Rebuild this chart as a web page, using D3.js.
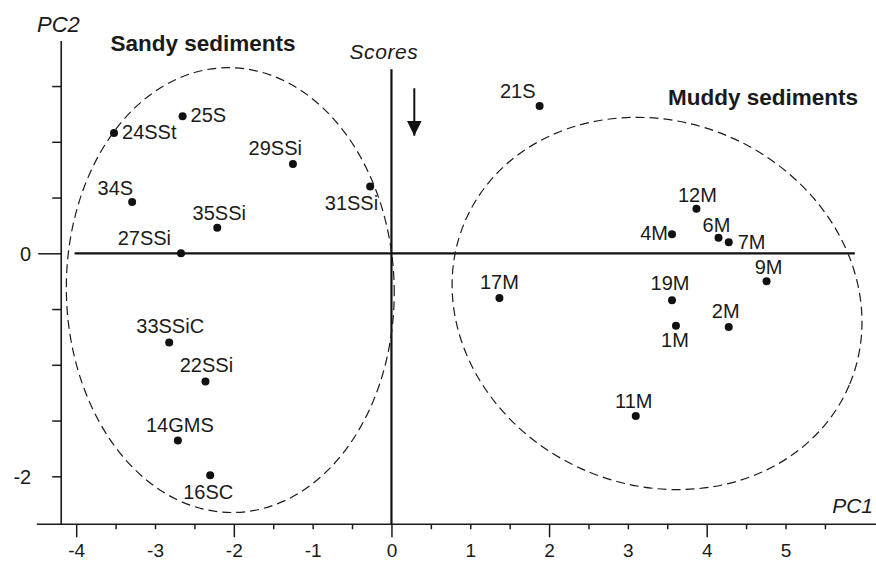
<!DOCTYPE html>
<html>
<head>
<meta charset="utf-8">
<script src="https://cdn.jsdelivr.net/npm/d3@7"></script>
<style>
  body { margin: 0; background: #fff; }
  svg { display: block; }
  text { font-family: "Liberation Sans", Arial, Helvetica, sans-serif; fill: #1a1a1a; }
</style>
</head>
<body>
<div class="chart"></div>
<script>
// sample scores (PC1, PC2)
const samples = ['25S','24SSt','29SSi','31SSi','34S','35SSi','27SSi','21S','12M','4M','6M','7M','9M','17M','19M','1M','2M','11M','33SSiC','22SSi','14GMS','16SC'];
const pc1 = [-2.65,-3.52,-1.25,-0.27,-3.29,-2.21,-2.67,1.88,3.87,3.56,4.15,4.28,4.76,1.37,3.56,3.61,4.28,3.10,-2.82,-2.36,-2.71,-2.30];
const pc2 = [1.23,1.08,0.80,0.60,0.46,0.23,0.00,1.32,0.40,0.17,0.14,0.10,-0.25,-0.40,-0.42,-0.65,-0.66,-1.46,-0.80,-1.15,-1.68,-1.99];

const xTicks = d3.range(-4, 5.51, 0.5);
const yTicks = d3.range(-2, 1.51, 0.5);
const xTickLabels = [-4,-3,-2,-1,0,1,2,3,4,5];
const yTickLabels = [0,-2];

// group ellipses: centre, half axes (data units), tilt in degrees
const groups = [
  {name: 'Sandy sediments', cx: -2.045, cy: -0.33, rx: 2.08, ry: 1.995, tilt: -1},
  {name: 'Muddy sediments', cx: 3.37, cy: -0.45, rx: 2.65, ry: 1.63, tilt: 23}
];

// label placement around each dot
const labelPos = {
  '25S':   ['start', 8, 6],   '24SSt': ['start', 8, 6],
  '29SSi': ['end', 9, -9],    '31SSi': ['end', 8, 24],
  '34S':   ['end', 1, -7],    '35SSi': ['middle', 2, -8],
  '27SSi': ['end', -10, -8],  '21S':   ['end', -4, -8],
  '12M':   ['middle', 1, -7], '4M':    ['end', -4, 6],
  '6M':    ['middle', -2, -6],'7M':    ['start', 9, 7],
  '9M':    ['middle', 2, -7], '17M':   ['middle', 0, -9],
  '19M':   ['middle', -2, -10],'1M':   ['middle', -1, 21],
  '2M':    ['middle', -3, -9],'11M':   ['middle', -2, -8],
  '33SSiC':['middle', 1, -10],'22SSi': ['middle', 1, -10],
  '14GMS': ['middle', 2, -9], '16SC':  ['middle', -2, 24]
};

const width = 876, height = 562;

const svg = d3.select('.chart')
  .append('svg')
  .attr('width', width)
  .attr('height', height);

const x = d3.scaleLinear().domain([-4, 5]).range([76.2, 785.5]);
const y = d3.scaleLinear().domain([0, -2]).range([253.3, 476.3]);

// x axis
const xAxisG = svg.append('g')
  .attr('transform', 'translate(0,' + y(-2.43) + ')')
  .call(d3.axisBottom(x)
    .tickValues(xTicks)
    .tickSize(5)
    .tickFormat(d => xTickLabels.includes(d) ? d : ''));
xAxisG.select('.domain').remove();
xAxisG.selectAll('.tick line')
  .attr('stroke', '#1a1a1a')
  .attr('stroke-width', 1.5)
  .attr('y2', d => d % 2 === 0 ? 13 : 5);
xAxisG.selectAll('.tick text')
  .attr('y', 33).attr('dy', 0)
  .style('font-size', '19px');
svg.append('line')
  .attr('x1', x(-4.5)).attr('x2', x(6.17))
  .attr('y1', y(-2.43)).attr('y2', y(-2.43))
  .attr('stroke', '#1a1a1a').attr('stroke-width', 1.6);

// y axis
const yAxisG = svg.append('g')
  .attr('transform', 'translate(' + x(-4.19) + ',0)')
  .call(d3.axisLeft(y)
    .tickValues(yTicks)
    .tickSize(9)
    .tickFormat(d => yTickLabels.includes(d) ? d : ''));
yAxisG.select('.domain').remove();
yAxisG.selectAll('.tick line')
  .attr('stroke', '#1a1a1a')
  .attr('stroke-width', 1.5)
  .attr('x2', d => d === 0 ? -23 : -9);
yAxisG.selectAll('.tick text')
  .attr('x', -30).attr('dy', '0.35em')
  .style('font-size', '20px');
svg.append('line')
  .attr('x1', x(-4.19)).attr('x2', x(-4.19))
  .attr('y1', y(1.905)).attr('y2', y(-2.43))
  .attr('stroke', '#1a1a1a').attr('stroke-width', 1.6);

// zero lines
svg.append('line')
  .attr('x1', x(-4.02)).attr('x2', x(5.88))
  .attr('y1', y(0)).attr('y2', y(0))
  .attr('stroke', '#111').attr('stroke-width', 2.2);
svg.append('line')
  .attr('x1', x(0)).attr('x2', x(0))
  .attr('y1', y(1.65)).attr('y2', y(-2.43))
  .attr('stroke', '#111').attr('stroke-width', 2.2);

// dashed group ellipses
svg.selectAll('ellipse.group')
  .data(groups)
  .enter()
  .append('ellipse')
  .attr('class', 'group')
  .attr('transform', d => 'translate(' + x(d.cx) + ',' + y(d.cy) + ') rotate(' + d.tilt + ')')
  .attr('rx', d => x(d.rx) - x(0))
  .attr('ry', d => y(0) - y(d.ry))
  .attr('fill', 'none')
  .attr('stroke', '#1a1a1a')
  .attr('stroke-width', 1.2)
  .attr('stroke-dasharray', '9,5');

// points
const pts = samples.map((s, i) => ({name: s, pc1: pc1[i], pc2: pc2[i]}));

svg.selectAll('circle.pt')
  .data(pts)
  .enter()
  .append('circle')
  .attr('class', 'pt')
  .attr('cx', d => x(d.pc1))
  .attr('cy', d => y(d.pc2))
  .attr('r', 4)
  .attr('fill', '#111');

svg.selectAll('text.lbl')
  .data(pts)
  .enter()
  .append('text')
  .attr('class', 'lbl')
  .attr('x', d => x(d.pc1) + labelPos[d.name][1])
  .attr('y', d => y(d.pc2) + labelPos[d.name][2])
  .attr('text-anchor', d => labelPos[d.name][0])
  .style('font-size', '20px')
  .text(d => d.name);

// arrow
svg.append('defs').append('marker')
  .attr('id', 'head')
  .attr('viewBox', '0 0 10 10')
  .attr('refX', 10).attr('refY', 5)
  .attr('markerWidth', 7.5).attr('markerHeight', 7.5)
  .attr('markerUnits', 'strokeWidth')
  .attr('orient', 'auto')
  .append('path')
  .attr('d', 'M0,0L10,5L0,10Z')
  .attr('fill', '#111');
svg.append('line')
  .attr('x1', x(0.29)).attr('x2', x(0.29))
  .attr('y1', y(1.48)).attr('y2', y(1.055))
  .attr('stroke', '#111').attr('stroke-width', 2)
  .attr('marker-end', 'url(#head)');

// titles
svg.append('text').attr('x', 37).attr('y', 31.5)
  .style('font-size', '22px').style('font-style', 'italic').text('PC2');
svg.append('text').attr('x', 873).attr('y', 513).attr('text-anchor', 'end')
  .style('font-size', '21px').style('font-style', 'italic').text('PC1');
svg.append('text').attr('x', 384).attr('y', 58.5).attr('text-anchor', 'middle')
  .style('font-size', '21px').style('font-style', 'italic').style('letter-spacing', '0.6px').text('Scores');
svg.append('text').attr('x', 203).attr('y', 51).attr('text-anchor', 'middle')
  .style('font-size', '22.5px').style('font-weight', 'bold').text(groups[0].name);
svg.append('text').attr('x', 763).attr('y', 105).attr('text-anchor', 'middle')
  .style('font-size', '22.5px').style('font-weight', 'bold').text(groups[1].name);
</script>
</body>
</html>
